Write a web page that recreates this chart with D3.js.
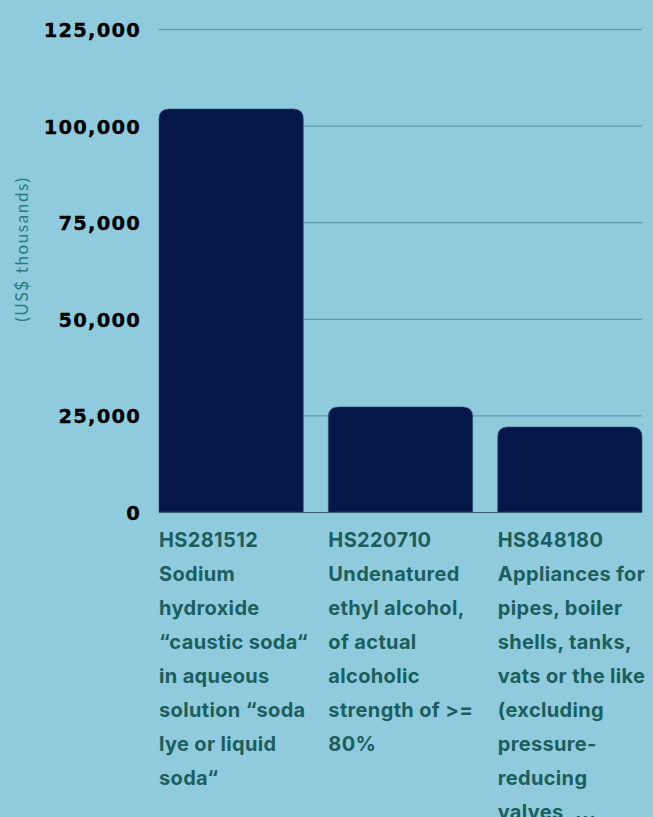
<!DOCTYPE html>
<html><head><meta charset="utf-8">
<script src="https://cdn.jsdelivr.net/npm/d3@7"></script>
<style>
html,body{margin:0;padding:0;background:#8fcbdc;}
svg{display:block;}
</style></head>
<body>
<svg id="chart" width="653" height="817"></svg>
<script>
const categories = ["HS281512", "HS220710", "HS848180"];
const values = [104300, 27200, 22000];
const labelLines = [
  ["HS281512", "Sodium", "hydroxide", "\u201Ccaustic soda\u201C", "in aqueous", "solution \u201Csoda", "lye or liquid", "soda\u201C"],
  ["HS220710", "Undenatured", "ethyl alcohol,", "of actual", "alcoholic", "strength of >=", "80%"],
  ["HS848180", "Appliances for", "pipes, boiler", "shells, tanks,", "vats or the like", "(excluding", "pressure-", "reducing", "valves, ..."]
];
const yTicks = [0, 25000, 50000, 75000, 100000, 125000];
const yTitle = "(US$ thousands)";

const svg = d3.select("#chart");
const W = 653, H = 817;
const m = {left: 159, right: 11, top: 29, bottom: 305};
const x = d3.scaleBand().domain(categories).range([m.left, W - m.right]).paddingInner(0.148).paddingOuter(0);
const y = d3.scaleLinear().domain([0, 125000]).range([H - m.bottom, m.top]);

svg.append("rect").attr("width", W).attr("height", H).attr("fill", "#8fcbdc");

// gridlines
svg.append("g").selectAll("line").data(yTicks.filter(d => d > 0)).join("line")
  .attr("x1", m.left).attr("x2", W - m.right)
  .attr("y1", d => y(d) + 0.5).attr("y2", d => y(d) + 0.5)
  .attr("stroke", "#5d8e9c").attr("stroke-width", 1);

// y tick labels
svg.append("g").selectAll("text").data(yTicks).join("text")
  .attr("x", 141).attr("y", d => y(d) + 1).attr("dy", "0.36em")
  .attr("text-anchor", "end")
  .attr("font-family", "'DejaVu Sans', sans-serif")
  .attr("font-weight", "bold").attr("font-size", 19.5).attr("letter-spacing", 1.2)
  .attr("fill", "#000").attr("stroke", "#000").attr("stroke-width", 0.3)
  .text(d => d3.format(",")(d));

// y title
svg.append("text")
  .attr("transform", `translate(28,${249}) rotate(-90)`)
  .attr("text-anchor", "middle")
  .attr("font-family", "Lato, sans-serif").attr("font-weight", 400)
  .attr("font-size", 17).attr("letter-spacing", 1.6).attr("fill", "#2b7a7e")
  .text(yTitle);

// bars with rounded top corners
const r = 10;
function barPath(x0, w, yTop, yBase) {
  const rr = Math.min(r, (yBase - yTop));
  return `M${x0},${yBase}V${yTop + rr}Q${x0},${yTop} ${x0 + rr},${yTop}H${x0 + w - rr}Q${x0 + w},${yTop} ${x0 + w},${yTop + rr}V${yBase}Z`;
}
svg.append("g").selectAll("path").data(categories).join("path")
  .attr("d", (c, i) => barPath(x(c), x.bandwidth(), y(values[i]), y(0)))
  .attr("fill", "#041748").attr("stroke", "#2a4f72").attr("stroke-width", 0.6);

// baseline
svg.append("line").attr("x1", m.left).attr("x2", W - m.right)
  .attr("y1", y(0) + 0.5).attr("y2", y(0) + 0.5)
  .attr("stroke", "#3b5566").attr("stroke-width", 1.2);

// category labels
const lab = svg.append("g");
categories.forEach((c, i) => {
  const t = lab.append("text")
    .attr("x", x(c)).attr("y", 547)
    .attr("font-family", "Inter, sans-serif").attr("font-weight", "bold")
    .attr("font-size", 20).attr("letter-spacing", 0.35).attr("fill", "#1b5e5e");
  labelLines[i].forEach((ln, j) => {
    t.append("tspan").attr("x", x(c)).attr("y", 547 + j * 34).text(ln);
  });
});
</script>
</body></html>
